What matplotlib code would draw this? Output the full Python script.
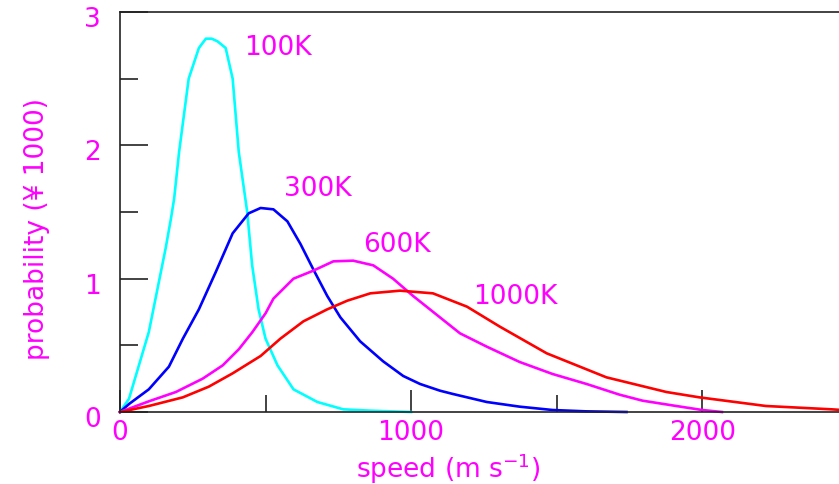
import numpy as np
import matplotlib
matplotlib.use("Agg")
import matplotlib.pyplot as plt
import matplotlib.transforms as mtransforms
from matplotlib.ticker import MultipleLocator


# Speed (m/s) and probability (x 1000), one curve per temperature
speed_100K = [0, 31, 99, 157, 175, 186, 203, 236, 271, 295, 315, 335, 363, 387, 408, 437,
              454, 476, 500, 541, 596, 678, 767, 860, 1000]
prob_100K = [0, 0.1, 0.6, 1.23, 1.45, 1.6, 1.95, 2.5, 2.73, 2.80, 2.80, 2.78, 2.73, 2.5, 1.95, 1.5,
             1.1, 0.77, 0.55, 0.35, 0.17, 0.075, 0.02, 0.01, 0]

speed_300K = [0, 31, 99, 168, 216, 271, 329, 387, 442, 483, 527, 575, 620, 664, 712, 757,
              825, 904, 973, 1031, 1099, 1144, 1260, 1373, 1486, 1600, 1740]
prob_300K = [0, 0.06, 0.17, 0.34, 0.55, 0.77, 1.05, 1.34, 1.49, 1.53, 1.52, 1.43, 1.26, 1.07, 0.87, 0.71,
             0.53, 0.38, 0.27, 0.21, 0.16, 0.135, 0.075, 0.04, 0.015, 0.005, 0]

speed_600K = [0, 99, 192, 284, 353, 408, 455, 500, 527, 596, 664, 733, 801, 870, 938, 1007,
              1099, 1168, 1260, 1373, 1486, 1603, 1716, 1795, 1911, 2000, 2068]
prob_600K = [0, 0.08, 0.15, 0.25, 0.35, 0.47, 0.6, 0.74, 0.85, 1.0, 1.06, 1.13, 1.135, 1.10, 1.0, 0.87,
             0.71, 0.59, 0.49, 0.375, 0.285, 0.21, 0.13, 0.085, 0.045, 0.015, 0]

speed_1000K = [0, 99, 216, 305, 387, 483, 551, 630, 712, 781, 860, 962, 1075, 1192, 1305,
               1466, 1671, 1877, 1990, 2219, 2445, 2480]
prob_1000K = [0, 0.045, 0.11, 0.19, 0.29, 0.42, 0.55, 0.68, 0.77, 0.835, 0.89, 0.91, 0.89, 0.79, 0.64,
              0.44, 0.26, 0.15, 0.11, 0.045, 0.02, 0.015]

labels = ["100K", "300K", "600K", "1000K"]
label_pos = [(425, 2.74), (562, 1.68), (836, 1.26), (1212, 0.87)]

x_ticks = [0, 1000, 2000]
y_ticks = [0, 1, 2, 3]

MAGENTA = "#ff00ff"

fig = plt.figure(figsize=(8.39, 4.85), dpi=100)
ax = fig.add_axes([120 / 839, 72 / 485, 719 / 839, 400 / 485])

curves = [(speed_100K, prob_100K, "#00ffff"),
          (speed_300K, prob_300K, "#0000ff"),
          (speed_600K, prob_600K, "#ff00ff"),
          (speed_1000K, prob_1000K, "#ff0000")]

for sp, pr, col in curves:
    ax.plot(sp, pr, color=col, lw=1.9, solid_joinstyle="round", clip_on=False)

# Temperature labels
for text, (x, y) in zip(labels, label_pos):
    ax.text(x, y, text, color=MAGENTA, fontsize=19, ha="left", va="center")

ax.set_xlim(0, 2470)
ax.set_ylim(0, 3)

# Axes frame: no right side, thin dark lines
ax.spines["right"].set_visible(False)
for side in ["left", "top", "bottom"]:
    ax.spines[side].set_color("#222222")
    ax.spines[side].set_linewidth(1.2)

ax.set_xticks(x_ticks)
ax.set_yticks(y_ticks)
ax.xaxis.set_minor_locator(MultipleLocator(500))
ax.yaxis.set_minor_locator(MultipleLocator(0.5))

ax.tick_params(axis="both", which="both", direction="in", colors="#222222",
               labelcolor=MAGENTA, labelsize=19, width=1.2)
ax.tick_params(axis="y", which="major", length=20, pad=14)
ax.tick_params(axis="y", which="minor", length=13)
ax.tick_params(axis="x", which="major", length=16, pad=5)
ax.tick_params(axis="x", which="minor", length=12)
ax.tick_params(top=False, right=False, which="both")

# y tick labels sit a little below their ticks in the reference
shift = mtransforms.ScaledTranslation(0, -3 / 72, fig.dpi_scale_trans)
for lab in ax.get_yticklabels():
    lab.set_transform(lab.get_transform() + shift)

ax.set_xlabel("speed (m s$^{-1}$)", color=MAGENTA, fontsize=19, va="center")
ax.xaxis.set_label_coords(0.456, -0.14)
ax.set_ylabel("probability (¥ 1000)", color=MAGENTA, fontsize=19, va="center")
ax.yaxis.set_label_coords(-0.115, 0.46)

fig.savefig("out.png", dpi=100)
